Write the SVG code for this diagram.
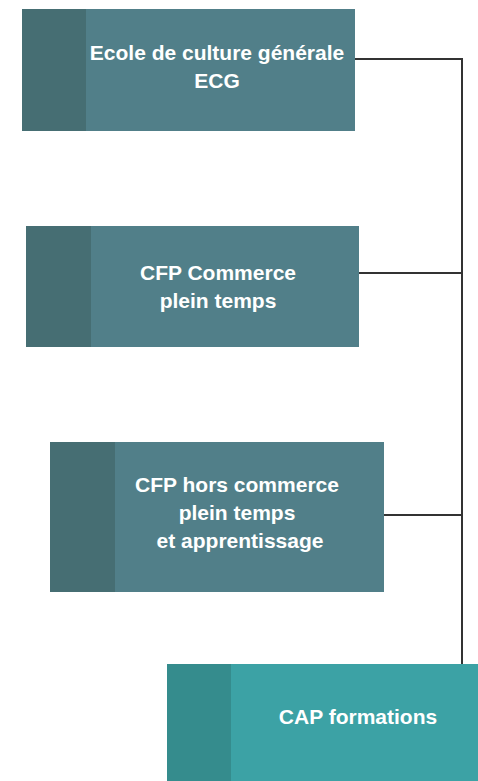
<svg xmlns="http://www.w3.org/2000/svg" width="478" height="781" viewBox="0 0 478 781">
<style>
.box{fill:#517f89}
.strip{fill:#466e73}
.box4{fill:#3ca2a5}
.strip4{fill:#358c8d}
.t{font-family:"Liberation Sans",Arial,sans-serif;font-weight:bold;font-size:21px;fill:#ffffff;text-anchor:middle}
.c{stroke:#333333;stroke-width:2;fill:none}
</style>
<rect width="478" height="781" fill="#ffffff"/>
<g id="connectors">
<path class="c" d="M355 59H462V664"/>
<path class="c" d="M359 273H462"/>
<path class="c" d="M384 515H462"/>
</g>
<g id="node-ecg">
<rect class="box" x="22" y="9" width="333" height="122"/>
<rect class="strip" x="22" y="9" width="64" height="122"/>
<text class="t" x="217" y="59.5">Ecole de culture générale</text>
<text class="t" x="217" y="87.5">ECG</text>
</g>
<g id="node-cfp-commerce">
<rect class="box" x="26" y="226" width="333" height="121"/>
<rect class="strip" x="26" y="226" width="65" height="121"/>
<text class="t" x="218" y="279.5">CFP Commerce</text>
<text class="t" x="218" y="307.5">plein temps</text>
</g>
<g id="node-cfp-hors">
<rect class="box" x="50" y="442" width="334" height="150"/>
<rect class="strip" x="50" y="442" width="65" height="150"/>
<text class="t" x="237" y="491.5">CFP hors commerce</text>
<text class="t" x="237" y="519.5">plein temps</text>
<text class="t" x="240" y="547.5">et apprentissage</text>
</g>
<g id="node-cap">
<rect class="box4" x="167" y="664" width="311" height="117"/>
<rect class="strip4" x="167" y="664" width="64" height="117"/>
<text class="t" x="358" y="723.5">CAP formations</text>
</g>
</svg>
